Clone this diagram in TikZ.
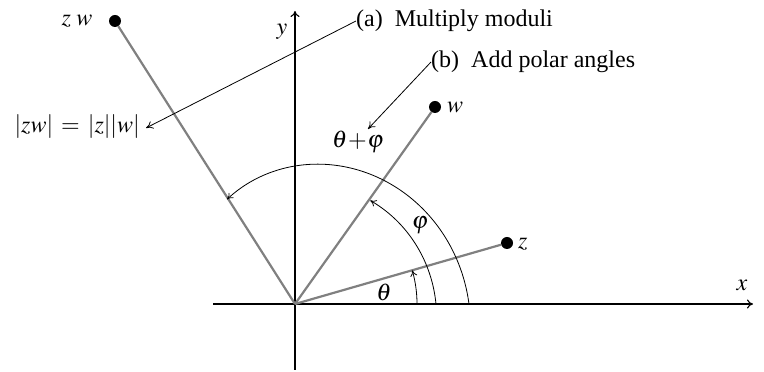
\documentclass[tikz,border=0pt]{standalone}
\usepackage{mathptmx}
\usepackage{fontspec}
\setmainfont{Liberation Serif}
\usetikzlibrary{arrows.meta}
\begin{document}
\begin{tikzpicture}[x=1pt,y=1pt,
  lbl/.style={inner sep=0pt,font=\fontsize{24}{28}\selectfont},
  ray/.style={line width=2.2pt,draw=black!50},
  dotn/.style={circle,fill=black,inner sep=0pt,minimum size=12pt},
  axis/.style={line width=1.1pt,-{To[length=6pt,width=9pt]}},
  arcl/.style={line width=0.8pt,-{To[length=6pt,width=7pt]}},
  ptr/.style={line width=0.8pt,-{To[length=7pt,width=8pt]}}]
\useasboundingbox (0,0) rectangle (764,372);
\coordinate (O) at (295,68);
\coordinate (xs) at (213,68);
\coordinate (xe) at (753,68);
\coordinate (ys) at (295,2);
\coordinate (ye) at (295,361);
\draw[axis] (xs) -- (xe);
\draw[axis] (ys) -- (ye);
\node[lbl] (xl) at (742,87) {$x$};
\node[lbl] (yl) at (282,340) {$y$};
% points
\node[dotn] (z) at (507,129) {};
\node[dotn] (w) at (435,265) {};
\node[dotn] (zw) at (115,351) {};
\draw[ray] (O) -- (z);
\draw[ray] (O) -- (w);
\draw[ray] (O) -- (zw);
\node[lbl,anchor=west] (zlab) at (518,128) {$z$};
\node[lbl,anchor=west] (wlab) at (447,265) {$w$};
\node[lbl] (zwlab) at (77,351) {$z\;w$};
% arcs
\draw[arcl] plot[domain=0:16,samples=40] ({295+122*cos(\x)},{68+122*sin(\x)});
\draw[arcl] plot[domain=0:54,samples=60] ({295+(141-13*\x/54)*cos(\x)},{68+(141-13*\x/54)*sin(\x)});
\draw[arcl] plot[domain=0:123,samples=100] ({295+(174-0.4*\x)*cos(\x)},{68+(174-0.4*\x)*sin(\x)});
\node[lbl] (th) at (384,80) {$\theta$};
\node[lbl] (ph) at (420,147) {$\varphi$};
\node[lbl] (thph) at (358,230) {$\theta\!+\!\varphi$};
\node[lbl,anchor=east] (mod) at (140,245) {$|zw|\,=\,|z||w|$};
% annotations
\node[lbl,anchor=west] (ta) at (356,351) {(a)\ \ Multiply moduli};
\node[lbl,anchor=west] (tb) at (431,310) {(b)\ \ Add polar angles};
\coordinate (ma) at (146,244);
\coordinate (mb) at (368,243);
\draw[ptr] (ta.west) -- (ma);
\draw[ptr] (tb.west) -- (mb);
\end{tikzpicture}
\end{document}
